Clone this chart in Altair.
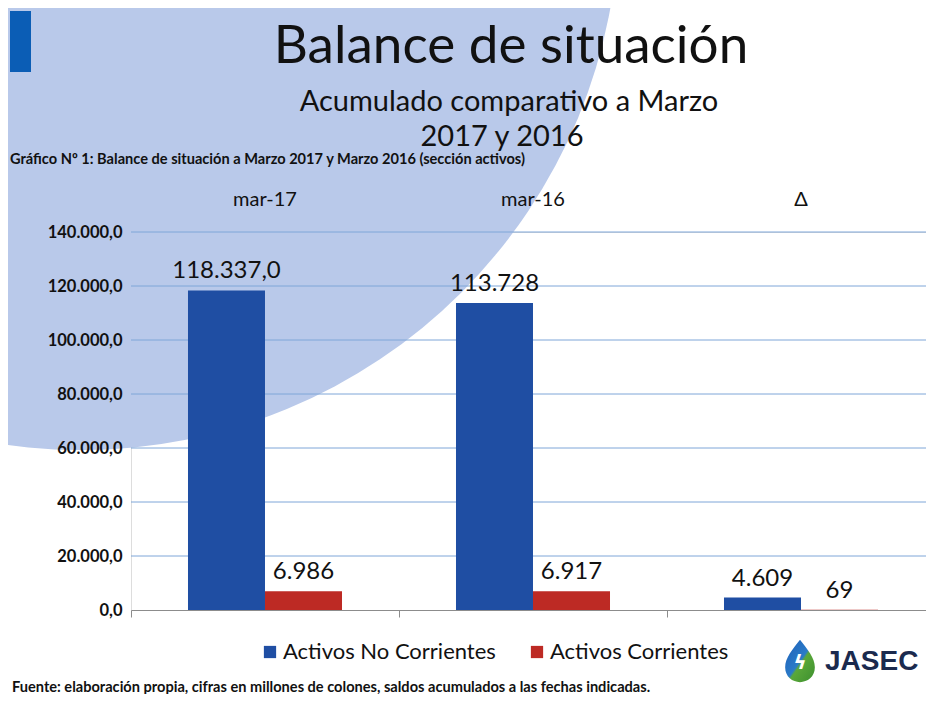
import altair as alt
import pandas as pd

# ---- data ----
categories = ["mar-17", "mar-16", "Δ"]
series = ["Activos No Corrientes", "Activos Corrientes"]
activos_no_corrientes = [118337.0, 113728.0, 4609.0]
activos_corrientes = [6986.0, 6917.0, 69.0]
labels_no_corrientes = ["118.337,0", "113.728", "4.609"]
labels_corrientes = ["6.986", "6.917", "69"]
y_ticks = [0, 20000, 40000, 60000, 80000, 100000, 120000, 140000]

title_text = "Balance de situación"
subtitle_1 = "Acumulado comparativo a Marzo"
subtitle_2 = "2017 y 2016"
caption_text = "Gráfico Nº 1: Balance de situación a Marzo 2017 y Marzo 2016 (sección activos)"
footer_text = "Fuente: elaboración propia, cifras en millones de colones, saldos acumulados a las fechas indicadas."
logo_text = "JASEC"

BLUE = "#1f4ea3"
RED = "#bd2a24"
FONT = "Lato"

rows = []
for i, c in enumerate(categories):
    rows.append({"cat": c, "serie": series[0], "valor": activos_no_corrientes[i], "etiqueta": labels_no_corrientes[i]})
    rows.append({"cat": c, "serie": series[1], "valor": activos_corrientes[i], "etiqueta": labels_corrientes[i]})
df = pd.DataFrame(rows)
df_cat = pd.DataFrame({"cat": categories})
df_grid = pd.DataFrame({"y": y_ticks[1:]})
one = pd.DataFrame({"k": [0]})

W, H = 795, 378

x_enc = alt.X("cat:N", sort=categories,
              scale=alt.Scale(range=[0, 804], paddingInner=0, paddingOuter=0),
              axis=alt.Axis(title=None, labels=False, ticks=True, tickSize=7, bandPosition=0,
                            domainColor="#8c8c8c", tickColor="#8c8c8c", grid=False, zindex=1))
xo_enc = alt.XOffset("serie:N", sort=series, scale=alt.Scale(paddingInner=0, paddingOuter=0.74))
y_enc = alt.Y("valor:Q", scale=alt.Scale(domain=[0, 140000], nice=False),
              axis=alt.Axis(title=None, values=y_ticks, format=",.1f", grid=False, ticks=False,
                            domain=False, labelFont=FONT, labelFontWeight="bold", labelFontSize=16.5,
                            labelColor="#111111", labelPadding=9, zindex=1))

# decorative background
bg = alt.Chart(one).mark_arc(theta=0, theta2=6.2832, radius=538, color="#b9c9ea").encode(
    x=alt.value(-50), y=alt.value(-320))
stripe = alt.Chart(one).mark_rect(color="#0b5db5").encode(
    x=alt.value(-121), x2=alt.value(-100), y=alt.value(-221), y2=alt.value(-160))

title = alt.Chart(one).mark_text(text=title_text, font=FONT, fontSize=53, color="#111111",
                                 align="center", baseline="alphabetic").encode(
    x=alt.value(380), y=alt.value(-169))
sub1 = alt.Chart(one).mark_text(text=subtitle_1, font=FONT, fontSize=29, color="#111111",
                                align="center", baseline="alphabetic").encode(
    x=alt.value(378), y=alt.value(-121))
sub2 = alt.Chart(one).mark_text(text=subtitle_2, font=FONT, fontSize=29, color="#111111",
                                align="center", baseline="alphabetic").encode(
    x=alt.value(371), y=alt.value(-86))
caption = alt.Chart(one).mark_text(text=caption_text, font=FONT, fontSize=14.6, fontWeight="bold",
                                   color="#111111", align="left", baseline="middle").encode(
    x=alt.value(-121), y=alt.value(-72))
footer = alt.Chart(one).mark_text(text=footer_text, font=FONT, fontSize=14.6, fontWeight="bold",
                                  color="#111111", align="left", baseline="alphabetic").encode(
    x=alt.value(-119), y=alt.value(460))

grid = alt.Chart(df_grid).mark_rule(color="#7ea6d8", strokeWidth=1).encode(
    y=alt.Y("y:Q", scale=alt.Scale(domain=[0, 140000], nice=False)))

bars = alt.Chart(df).mark_bar(size=77).encode(
    x=x_enc, xOffset=xo_enc, y=y_enc,
    color=alt.Color("serie:N", sort=series, scale=alt.Scale(domain=series, range=[BLUE, RED]),
                    legend=alt.Legend(title=None, orient="none", legendX=128, legendY=409,
                                      direction="horizontal", columns=2, symbolType="square",
                                      symbolSize=150, symbolStrokeWidth=0, labelFont=FONT,
                                      labelFontSize=22, labelColor="#111111", labelOffset=2,
                                      columnPadding=30, labelLimit=400)))

values = alt.Chart(df).mark_text(font=FONT, fontSize=24, color="#111111", baseline="alphabetic",
                                 dy=-12).encode(
    x=alt.X("cat:N", sort=categories), xOffset=alt.XOffset("serie:N", sort=series),
    y="valor:Q", text="etiqueta:N")

cat_labels = alt.Chart(df_cat).mark_text(font=FONT, fontSize=20, color="#111111",
                                         baseline="middle").encode(
    x=alt.X("cat:N", sort=categories), y=alt.value(-32), text="cat:N")

drop = alt.Chart(one).mark_point(
    shape="M0,-1 C0.35,-0.55 0.7,-0.15 0.7,0.3 C0.7,0.75 0.35,1 0,1 C-0.35,1 -0.7,0.75 -0.7,0.3 C-0.7,-0.15 -0.35,-0.55 0,-1 Z",
    size=1800, filled=True, opacity=1, strokeWidth=0,
    fill=alt.Gradient(gradient="linear", x1=0, y1=0, x2=1, y2=1,
                      stops=[alt.GradientStop(color="#1f5fb8", offset=0),
                             alt.GradientStop(color="#2a7bc8", offset=0.5),
                             alt.GradientStop(color="#5aa83a", offset=0.55),
                             alt.GradientStop(color="#3c8f2e", offset=1)])).encode(
    x=alt.value(669), y=alt.value(429))
bolt = alt.Chart(one).mark_text(text="ϟ", font="DejaVu Sans", fontSize=20, color="white",
                                fontWeight="bold").encode(x=alt.value(669), y=alt.value(431))
logo = alt.Chart(one).mark_text(text=logo_text, font="Liberation Sans", fontSize=28, fontWeight="bold",
                                color="#1b2a4e", align="left", baseline="alphabetic").encode(
    x=alt.value(694), y=alt.value(438))

chart = alt.layer(bg, stripe, title, sub1, sub2, caption, footer, grid, bars, values, cat_labels,
                  drop, bolt, logo).properties(
    width=W, height=H, autosize="none",
    padding={"left": 123, "top": 224, "right": 0, "bottom": 84},
    background="white"
).configure_view(stroke=None).configure(
    locale={"number": {"decimal": ",", "thousands": ".", "grouping": [3], "currency": ["", ""]}}
)

chart.save("out.html", embed_options={"renderer": "svg", "actions": False})
